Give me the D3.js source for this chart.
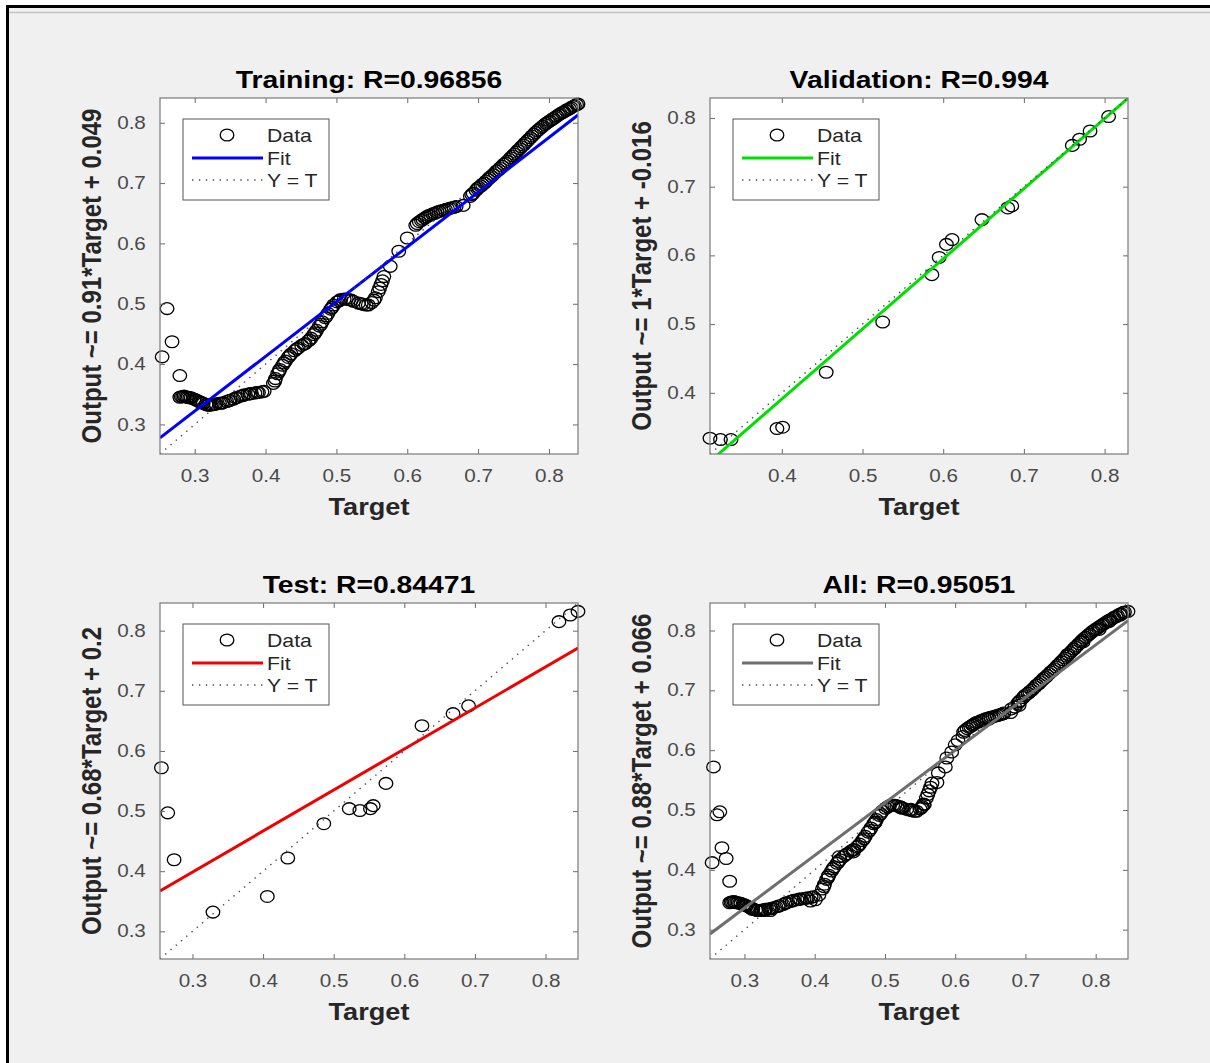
<!DOCTYPE html>
<html>
<head>
<meta charset="utf-8">
<script src="https://cdnjs.cloudflare.com/ajax/libs/d3/7.8.5/d3.min.js"></script>
<style>
  body { margin: 0; background: #ffffff; }
  svg { display: block; font-family: "Liberation Sans", Arial, Helvetica, sans-serif; }
</style>
</head>
<body>
<div id="chart"></div>
<script>
// ---- data ----
var trainingTarget = [
  0.254, 0.261, 0.268, 0.279,
  0.279, 0.283, 0.287, 0.291, 0.295, 0.299, 0.303, 0.308, 0.312, 0.316,
  0.320, 0.325, 0.330, 0.335, 0.340, 0.345, 0.350, 0.355, 0.360, 0.365,
  0.370, 0.375, 0.380, 0.385, 0.390, 0.395,
  0.411, 0.414, 0.417, 0.420, 0.424, 0.428, 0.432, 0.436, 0.441, 0.446,
  0.451, 0.456, 0.460, 0.464, 0.468, 0.472, 0.476, 0.480, 0.484, 0.488,
  0.492, 0.496, 0.501, 0.506, 0.511, 0.517, 0.524, 0.531, 0.538, 0.545,
  0.550, 0.555, 0.559, 0.563, 0.567, 0.576, 0.588, 0.600,
  0.612, 0.617, 0.622, 0.627, 0.633, 0.639, 0.645, 0.651, 0.657, 0.663, 0.669, 0.679,
  0.689, 0.693, 0.697, 0.701, 0.706, 0.711, 0.716, 0.721, 0.726, 0.731,
  0.736, 0.741, 0.746, 0.751, 0.756, 0.761, 0.766, 0.771, 0.776, 0.781,
  0.786, 0.791, 0.796, 0.801, 0.806, 0.811, 0.816, 0.821, 0.826, 0.831,
  0.836, 0.841,
  // overlapping circles inside the dense band
  0.281, 0.285, 0.289, 0.293, 0.301, 0.306, 0.310, 0.318, 0.323, 0.328,
  0.338, 0.348, 0.358, 0.368, 0.378, 0.388, 0.398,
  0.413, 0.419, 0.426, 0.434, 0.444, 0.454, 0.462, 0.470, 0.478, 0.486,
  0.494, 0.504, 0.514, 0.521, 0.535, 0.542, 0.553, 0.561, 0.565,
  0.614, 0.620, 0.625, 0.630, 0.636, 0.642, 0.648, 0.654, 0.660, 0.666,
  0.691, 0.699, 0.704, 0.709, 0.714, 0.719, 0.724, 0.729, 0.734, 0.739,
  0.744, 0.749, 0.754, 0.759, 0.764, 0.769, 0.774, 0.779, 0.784, 0.789,
  0.794, 0.799, 0.804, 0.809, 0.814, 0.819, 0.824, 0.829, 0.834, 0.839
];
var trainingOutput = [
  0.412, 0.492, 0.437, 0.381,
  0.345, 0.346, 0.346, 0.345, 0.344, 0.342, 0.340, 0.337, 0.335, 0.333,
  0.332, 0.333, 0.334, 0.335, 0.336, 0.338, 0.340, 0.342, 0.345, 0.347,
  0.349, 0.350, 0.351, 0.352, 0.353, 0.354,
  0.368, 0.376, 0.384, 0.391, 0.398, 0.405, 0.411, 0.417, 0.422, 0.427,
  0.431, 0.434, 0.438, 0.443, 0.449, 0.456, 0.463, 0.470, 0.477, 0.484,
  0.491, 0.498, 0.503, 0.507, 0.508, 0.507, 0.504, 0.501, 0.499, 0.498,
  0.502, 0.510, 0.520, 0.532, 0.545, 0.562, 0.587, 0.609,
  0.630, 0.636, 0.640, 0.644, 0.647, 0.650, 0.653, 0.655, 0.657, 0.659, 0.661, 0.663,
  0.678, 0.683, 0.688, 0.693, 0.698, 0.703, 0.709, 0.714, 0.720, 0.725,
  0.731, 0.736, 0.742, 0.748, 0.754, 0.760, 0.766, 0.772, 0.778, 0.784,
  0.789, 0.794, 0.799, 0.803, 0.807, 0.811, 0.815, 0.818, 0.822, 0.825,
  0.828, 0.831,
  0.346, 0.347, 0.345, 0.344, 0.341, 0.338, 0.336, 0.332, 0.332, 0.333,
  0.335, 0.339, 0.344, 0.348, 0.351, 0.353, 0.355,
  0.372, 0.388, 0.402, 0.414, 0.425, 0.433, 0.440, 0.452, 0.466, 0.480,
  0.494, 0.505, 0.508, 0.506, 0.500, 0.498, 0.506, 0.526, 0.538,
  0.633, 0.638, 0.642, 0.646, 0.649, 0.652, 0.654, 0.656, 0.658, 0.660,
  0.681, 0.691, 0.695, 0.700, 0.706, 0.711, 0.717, 0.722, 0.728, 0.733,
  0.739, 0.745, 0.751, 0.757, 0.763, 0.769, 0.775, 0.781, 0.787, 0.792,
  0.797, 0.801, 0.805, 0.809, 0.813, 0.817, 0.820, 0.823, 0.827, 0.830
];

var validationTarget = [0.311, 0.324, 0.337, 0.394, 0.401, 0.455, 0.525, 0.586, 0.595,
  0.604, 0.611, 0.648, 0.680, 0.685, 0.760, 0.769, 0.782, 0.805];
var validationOutput = [0.334, 0.332, 0.332, 0.348, 0.350, 0.430, 0.503, 0.572, 0.597,
  0.616, 0.623, 0.652, 0.669, 0.672, 0.760, 0.769, 0.781, 0.802];

var testTarget = [0.256, 0.265, 0.274, 0.329, 0.406, 0.435, 0.486, 0.522, 0.537,
  0.552, 0.556, 0.574, 0.625, 0.669, 0.691, 0.819, 0.835, 0.846];
var testOutput = [0.572, 0.497, 0.419, 0.332, 0.358, 0.422, 0.479, 0.504, 0.501,
  0.504, 0.509, 0.546, 0.642, 0.662, 0.675, 0.815, 0.826, 0.832];

// All = union of the three sets
var allTarget = trainingTarget.concat(validationTarget, testTarget);
var allOutput = trainingOutput.concat(validationOutput, testOutput);

// fit lines [slope, intercept]
var trainingFit = [0.907, 0.050];
var validationFit = [1.02, -0.017];
var testFit = [0.682, 0.194];
var allFit = [0.88, 0.072];

// axis limits (same for target and output)
var trainingLimits = [0.251, 0.841];
var validationLimits = [0.311, 0.829];
var testLimits = [0.254, 0.846];
var allLimits = [0.251, 0.846];

var ticksA = [0.3, 0.4, 0.5, 0.6, 0.7, 0.8];
var ticksB = [0.4, 0.5, 0.6, 0.7, 0.8];

var panelTitles = ["Training: R=0.96856", "Validation: R=0.994", "Test: R=0.84471", "All: R=0.95051"];
var panelYLabels = ["Output ~= 0.91*Target + 0.049", "Output ~= 1*Target + -0.016",
  "Output ~= 0.68*Target + 0.2", "Output ~= 0.88*Target + 0.066"];
var legendLabels = ["Data", "Fit", "Y = T"];

// ---- layout ----
var W = 1210, H = 1063;
var axW = 418, axH = 356;
var stretch = 1.18;   // the figure is wider than tall, text looks stretched

var panels = [
  { title: panelTitles[0], ylab: panelYLabels[0], t: trainingTarget, o: trainingOutput, fit: trainingFit,
    lim: trainingLimits, ticks: ticksA, color: "#0000ff", left: 160, top: 98 },
  { title: panelTitles[1], ylab: panelYLabels[1], t: validationTarget, o: validationOutput, fit: validationFit,
    lim: validationLimits, ticks: ticksB, color: "#00e000", left: 710, top: 98 },
  { title: panelTitles[2], ylab: panelYLabels[2], t: testTarget, o: testOutput, fit: testFit,
    lim: testLimits, ticks: ticksA, color: "#f00000", left: 160, top: 603 },
  { title: panelTitles[3], ylab: panelYLabels[3], t: allTarget, o: allOutput, fit: allFit,
    lim: allLimits, ticks: ticksA, color: "#6e6e6e", left: 710, top: 603 }
];

var svg = d3.select("#chart").append("svg")
  .attr("width", W)
  .attr("height", H);

// figure background and frame
svg.append("rect").attr("width", W).attr("height", H).attr("fill", "#ffffff");
svg.append("rect").attr("x", 6).attr("y", 5).attr("width", W - 6).attr("height", H - 5).attr("fill", "#f0f0f0");
svg.append("line").attr("x1", 6).attr("x2", W).attr("y1", 6.5).attr("y2", 6.5)
  .attr("stroke", "#000").attr("stroke-width", 3);
svg.append("line").attr("x1", 7.5).attr("x2", 7.5).attr("y1", 5).attr("y2", H)
  .attr("stroke", "#000").attr("stroke-width", 3);
svg.append("line").attr("x1", 9).attr("x2", W).attr("y1", 12.5).attr("y2", 12.5)
  .attr("stroke", "#c4c4c4").attr("stroke-width", 1.5);

function stretchedText(parent, x, y, str) {
  return parent.append("g")
    .attr("transform", "translate(" + x + "," + y + ") scale(" + stretch + ",1)")
    .append("text")
    .text(str);
}

panels.forEach(function(p, i) {
  var g = svg.append("g").attr("transform", "translate(" + p.left + "," + p.top + ")");

  var x = d3.scaleLinear().domain(p.lim).range([0, axW]);
  var y = d3.scaleLinear().domain(p.lim).range([axH, 0]);

  g.append("rect").attr("width", axW).attr("height", axH).attr("fill", "#ffffff");

  g.append("clipPath").attr("id", "clip" + i)
    .append("rect").attr("width", axW).attr("height", axH);

  // data circles
  var pts = p.t.map(function(d, k) { return [d, p.o[k]]; });
  g.append("g").selectAll("ellipse")
    .data(pts)
    .enter()
    .append("ellipse")
    .attr("cx", function(d) { return x(d[0]); })
    .attr("cy", function(d) { return y(d[1]); })
    .attr("rx", 6.8)
    .attr("ry", 5.9)
    .attr("fill", "none")
    .attr("stroke", "#000")
    .attr("stroke-width", 1.3);

  var lines = g.append("g").attr("clip-path", "url(#clip" + i + ")");

  // fit
  lines.append("line")
    .attr("x1", x(p.lim[0])).attr("y1", y(p.fit[0] * p.lim[0] + p.fit[1]))
    .attr("x2", x(p.lim[1])).attr("y2", y(p.fit[0] * p.lim[1] + p.fit[1]))
    .attr("stroke", p.color)
    .attr("stroke-width", 3);

  // Y = T
  lines.append("line")
    .attr("x1", x(p.lim[0])).attr("y1", y(p.lim[0]))
    .attr("x2", x(p.lim[1])).attr("y2", y(p.lim[1]))
    .attr("stroke", "#4a4a5a")
    .attr("stroke-width", 1.4)
    .attr("stroke-dasharray", "1.4,5.5");

  // axes
  var fmt = d3.format(".1f");
  var xAxis = d3.axisBottom(x).tickValues(p.ticks).tickSizeInner(-5).tickSizeOuter(0)
    .tickPadding(15.5).tickFormat(fmt);
  var yAxis = d3.axisLeft(y).tickValues(p.ticks).tickSizeInner(-5).tickSizeOuter(0)
    .tickPadding(12).tickFormat(fmt);
  var xTop = d3.axisTop(x).tickValues(p.ticks).tickSizeInner(-5).tickSizeOuter(0).tickFormat("");
  var yRight = d3.axisRight(y).tickValues(p.ticks).tickSizeInner(-5).tickSizeOuter(0).tickFormat("");

  var axes = [
    g.append("g").attr("transform", "translate(0," + axH + ")").call(xAxis),
    g.append("g").call(yAxis),
    g.append("g").call(xTop),
    g.append("g").attr("transform", "translate(" + axW + ",0)").call(yRight)
  ];
  axes.forEach(function(a) {
    a.select(".domain").remove();
    a.selectAll(".tick line").attr("stroke", "#6a6a6a");
    a.selectAll(".tick text")
      .attr("transform", "scale(" + stretch + ",1)")
      .attr("font-size", "17.5px")
      .attr("fill", "#4a4a4a");
  });

  g.append("rect").attr("width", axW).attr("height", axH)
    .attr("fill", "none").attr("stroke", "#7a7a7a").attr("stroke-width", 1.2);

  // title and labels
  stretchedText(g, axW / 2, -10, p.title)
    .attr("text-anchor", "middle").attr("font-size", "24px").attr("font-weight", "bold").attr("fill", "#000");
  stretchedText(g, axW / 2, axH + 61, "Target")
    .attr("text-anchor", "middle").attr("font-size", "23px").attr("font-weight", "bold").attr("fill", "#262626");
  g.append("g")
    .attr("transform", "translate(-59," + (axH / 2) + ") scale(" + stretch + ",1) rotate(-90)")
    .append("text")
    .attr("text-anchor", "middle").attr("font-size", "24px").attr("font-weight", "bold").attr("fill", "#262626")
    .text(p.ylab);

  // legend
  var lg = g.append("g").attr("transform", "translate(23,21)");
  lg.append("rect").attr("width", 146).attr("height", 81)
    .attr("fill", "#ffffff").attr("stroke", "#555").attr("stroke-width", 1);
  var rows = [16, 39, 61];
  lg.append("ellipse").attr("cx", 44).attr("cy", rows[0]).attr("rx", 6.8).attr("ry", 5.9)
    .attr("fill", "none").attr("stroke", "#000").attr("stroke-width", 1.3);
  lg.append("line").attr("x1", 9).attr("x2", 80).attr("y1", rows[1]).attr("y2", rows[1])
    .attr("stroke", p.color).attr("stroke-width", 3);
  lg.append("line").attr("x1", 9).attr("x2", 80).attr("y1", rows[2]).attr("y2", rows[2])
    .attr("stroke", "#4a4a5a").attr("stroke-width", 1.4).attr("stroke-dasharray", "1.4,5.5");
  legendLabels.forEach(function(lab, k) {
    stretchedText(lg, 84, rows[k] + 6.5, lab)
      .attr("font-size", "18px").attr("fill", "#262626");
  });
});
</script>
</body>
</html>
